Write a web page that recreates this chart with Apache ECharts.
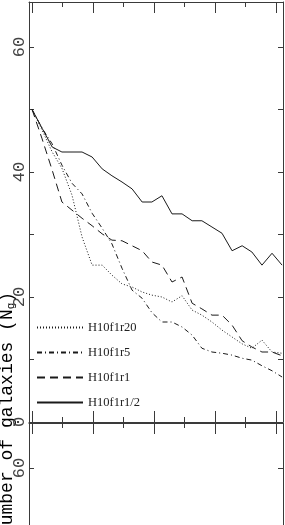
<!DOCTYPE html>
<html>
<head>
<meta charset="utf-8">
<script src="https://cdn.jsdelivr.net/npm/echarts@6/dist/echarts.min.js"></script>
<style>
html,body{margin:0;padding:0;background:#fff;}
#chart{width:285px;height:525px;}
</style>
</head>
<body>
<div id="chart"></div>
<script>
// x positions of the sampled outputs (in units of minor x ticks)
const xs = [0, 0.33, 0.66, 0.98, 1.31, 1.64, 1.97, 2.3, 2.62, 2.95, 3.28, 3.61, 3.93, 4.26, 4.59, 4.92, 5.25, 5.57, 5.9, 6.23, 6.56, 6.89, 7.21, 7.54, 7.87, 8.2];
const seriesNames = ['H10f1r20', 'H10f1r5', 'H10f1r1', 'H10f1r1/2'];
const r20   = [50, 46.7, 43.2, 40.6, 36.3, 29.6, 25.1, 25.1, 23.5, 22.1, 21.6, 20.8, 20.3, 20.0, 19.2, 20.2, 17.9, 17.1, 16.0, 14.7, 13.6, 12.5, 11.8, 13.1, 11.2, 11.0];
const r5    = [50, 47, 44.5, 41.1, 38.2, 36.5, 33.4, 31.0, 28.5, 24.6, 21.1, 19.8, 17.5, 16.0, 16.0, 15.2, 13.9, 11.8, 11.2, 11.0, 10.7, 10.2, 9.9, 9.0, 8.2, 7.2];
const r1    = [50, 45.3, 40.3, 35.2, 33.9, 32.6, 31.4, 30.1, 29.1, 29.0, 28.2, 27.4, 25.6, 25.1, 22.4, 23.2, 19.0, 18.1, 17.1, 17.1, 15.5, 13.0, 12.0, 11.2, 11.2, 10.6];
const rHalf = [50, 47, 44, 43.2, 43.2, 43.2, 42.4, 40.5, 39.4, 38.4, 37.3, 35.2, 35.2, 36.2, 33.3, 33.3, 32.2, 32.2, 31.2, 30.2, 27.4, 28.2, 27.2, 25.1, 27.0, 25.1];
const xMajorTicks = [0, 2, 4, 6, 8];
const xMinorTicks = [1, 3, 5, 7];
const yTickVals = [0, 10, 20, 30, 40, 50, 60];
const yLabelVals = [0, 20, 40, 60];
const yName = 'Number of galaxies (N';
const yNameSub = 'g';

const AX = '#3a3a3a';
const MONO = '"Liberation Mono", "DejaVu Sans Mono", monospace';
const X_MIN = -0.1, X_MAX = 8.23;
const TOP_Y = [0, 67.2];      // upper panel range
const BOT_Y = [50.88, 67.2];  // visible part of the lower panel

function xAx(grid, pos, ticks, len, line) {
  return {
    type: 'value', gridIndex: grid, position: pos, min: X_MIN, max: X_MAX,
    axisLine: { show: line, onZero: false, lineStyle: { color: AX, width: 1 } },
    axisTick: { show: true, inside: true, length: len, customValues: ticks, lineStyle: { color: AX, width: 1 } },
    axisLabel: { show: false }, splitLine: { show: false }
  };
}
function yAx(grid, pos, labels, range) {
  return {
    type: 'value', gridIndex: grid, position: pos, min: range[0], max: range[1],
    axisLine: { show: true, onZero: false, lineStyle: { color: AX, width: 1 } },
    axisTick: { show: true, inside: true, length: 5, customValues: yTickVals.filter(v => v >= range[0] && v <= range[1]), lineStyle: { color: AX, width: 1 } },
    axisLabel: labels ? {
      show: true, customValues: yLabelVals.filter(v => v >= range[0] && v <= range[1]), rotate: 90, margin: 1,
      fontFamily: MONO, fontSize: 17, color: '#444'
    } : { show: false },
    splitLine: { show: false }
  };
}

const dashTypes = [[1, 2], [5, 3, 1, 3], [8, 5], 'solid'];
const allData = [r20, r5, r1, rHalf];

const chart = echarts.init(document.getElementById('chart'), null, { renderer: 'canvas' });
chart.setOption({
  animation: false,
  backgroundColor: '#fff',
  grid: [
    { left: 29, right: 2, top: 2, height: 420, outerBoundsMode: 'none' },
    { left: 29, right: 2, top: 423, height: 102, outerBoundsMode: 'none' }
  ],
  xAxis: [
    xAx(0, 'bottom', xMajorTicks, 11, true),
    xAx(0, 'bottom', xMinorTicks, 5, false),
    xAx(0, 'top', xMajorTicks, 11, true),
    xAx(0, 'top', xMinorTicks, 5, false),
    xAx(1, 'top', xMajorTicks, 11, true),
    xAx(1, 'top', xMinorTicks, 5, false),
    xAx(1, 'bottom', [], 0, false)
  ],
  yAxis: [
    yAx(0, 'left', true, TOP_Y),
    yAx(0, 'right', false, TOP_Y),
    yAx(1, 'left', true, BOT_Y),
    yAx(1, 'right', false, BOT_Y)
  ],
  legend: {
    data: seriesNames,
    orient: 'vertical',
    left: 31, top: 316,
    padding: 5,
    itemWidth: 46, itemHeight: 14, itemGap: 12,
    selectedMode: false,
    itemStyle: { opacity: 0 },
    textStyle: { fontFamily: '"Liberation Serif", serif', fontSize: 12.5, color: '#222' }
  },
  series: seriesNames.map((n, k) => ({
    name: n, type: 'line', xAxisIndex: 0, yAxisIndex: 0,
    data: xs.map((x, i) => [x, allData[k][i]]),
    symbol: 'none', smooth: false,
    lineStyle: { color: '#1a1a1a', width: 1, type: dashTypes[k] },
    itemStyle: { color: '#1a1a1a' }
  })),
  graphic: [{
    type: 'text', x: 7, y: 414, rotation: Math.PI / 2,
    style: {
      text: '{a|' + yName + '}{s|' + yNameSub + '}{a|)}',
      rich: {
        a: { fontFamily: MONO, fontSize: 18, lineHeight: 20, color: '#444' },
        s: { fontFamily: MONO, fontSize: 11, lineHeight: 20, verticalAlign: 'bottom', color: '#444' }
      },
      align: 'center', verticalAlign: 'middle',
      textAlign: 'center', textVerticalAlign: 'middle'
    }
  }]
});
</script>
</body>
</html>
